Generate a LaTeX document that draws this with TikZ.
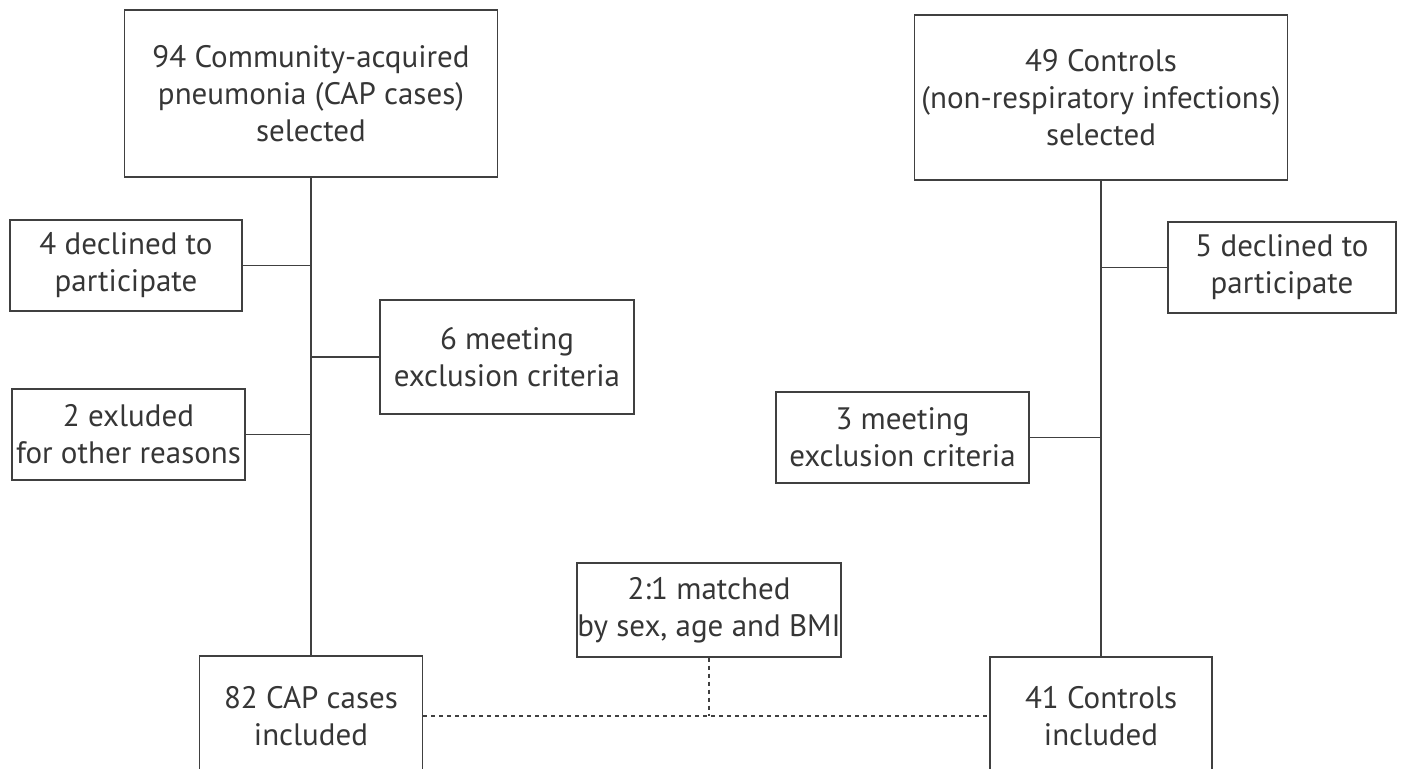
\documentclass[tikz,border=0pt]{standalone}
\usepackage{fontspec}
\setmainfont{PT Sans}
\definecolor{ink}{HTML}{363636}
\definecolor{rule}{HTML}{404040}
\begin{document}
\begin{tikzpicture}[x=1pt,y=-1pt,
  box/.style={draw=rule, line width=1.4pt, text=ink, align=center, inner sep=0pt,
    font=\fontsize{31}{37}\selectfont},
  conn/.style={draw=rule, line width=1.4pt},
  dashconn/.style={draw=rule, line width=1.6pt, dash pattern=on 4pt off 4pt}]
\useasboundingbox (0,0) rectangle (1426,768);
\node[box, minimum width=373pt, minimum height=167pt] (cap0) at (311,93.5)
  {94 Community-acquired\\pneumonia (CAP cases)\\selected};
\node[box, minimum width=373pt, minimum height=165pt] (ctl0) at (1101,97.5)
  {49 Controls\\(non-respiratory infections)\\selected};
\node[box, minimum width=232pt, minimum height=91pt] (dec1) at (126,265.5)
  {4 declined to\\participate};
\node[box, minimum width=254pt, minimum height=114pt] (excl1) at (507,357)
  {6 meeting\\exclusion criteria};
\node[box, minimum width=233pt, minimum height=91pt] (oth1) at (128.5,434.5)
  {2 exluded\\for other reasons};
\node[box, minimum width=228pt, minimum height=91pt] (dec2) at (1282,267.5)
  {5 declined to\\participate};
\node[box, minimum width=253pt, minimum height=91pt] (excl2) at (902.5,437.5)
  {3 meeting\\exclusion criteria};
\node[box, minimum width=264pt, minimum height=94pt] (match) at (709,610)
  {2:1 matched\\by sex, age and BMI};
\node[box, minimum width=223pt, minimum height=120pt] (cap1) at (311,716)
  {82 CAP cases\\included};
\node[box, minimum width=222pt, minimum height=118pt] (ctl1) at (1101,716)
  {41 Controls\\included};
\draw[conn] (cap0.south) -- (cap1.north);
\draw[conn] (ctl0.south) -- (ctl1.north);
\draw[conn] (dec1.east) -- (dec1.east -| cap0.south);
\draw[conn] (excl1.west) -- (excl1.west -| cap0.south);
\draw[conn] (oth1.east) -- (oth1.east -| cap0.south);
\draw[conn] (dec2.west) -- (dec2.west -| ctl0.south);
\draw[conn] (excl2.east) -- (excl2.east -| ctl0.south);
\draw[dashconn] (cap1.east) -- (ctl1.west);
\draw[dashconn] (match.south) -- (match.south |- cap1.east);
\end{tikzpicture}
\end{document}
